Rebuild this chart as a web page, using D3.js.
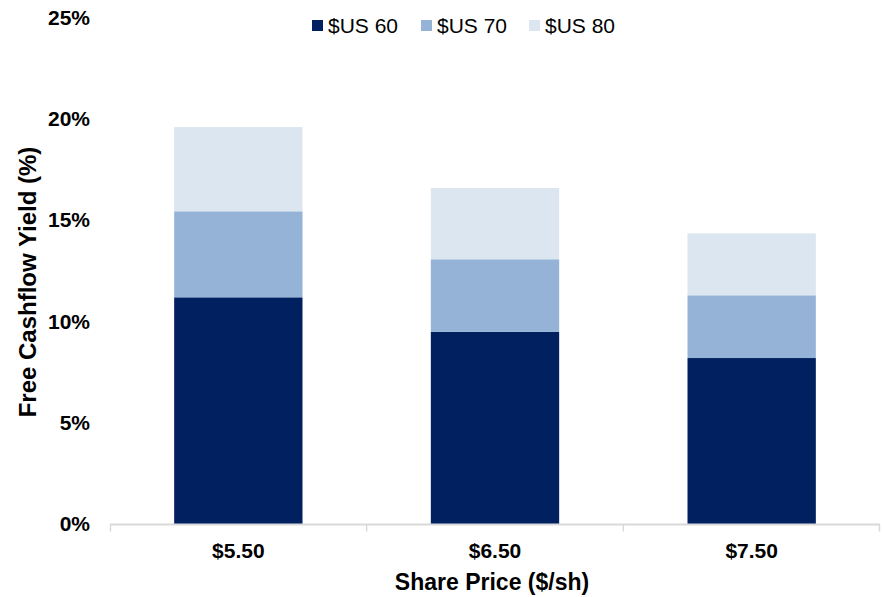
<!DOCTYPE html>
<html>
<head>
<meta charset="utf-8">
<script src="https://cdn.jsdelivr.net/npm/d3@7"></script>
<style>
    body { margin: 0; background: #fff; }
    text { font-family: "Liberation Sans", Arial, sans-serif; fill: #000; }
</style>
</head>
<body>
<div id="charts"></div>
<script>
// Chart data (percent).
let categories = ["$5.50", "$6.50", "$7.50"];
let series_names = ["$US 60", "$US 70", "$US 80"];
let us60 = [11.2, 9.5, 8.2];
let us70 = [4.25, 3.58, 3.1];
let us80 = [4.16, 3.52, 3.06];
let y_ticks = [0, 5, 10, 15, 20, 25];
let colors = ["#002060", "#95b3d7", "#dce6f1"];

let svg_width = 883, svg_height = 597;
let margin = { top: 18, right: 3, bottom: 73, left: 110 },
    width = svg_width - margin.left - margin.right,
    height = svg_height - margin.top - margin.bottom;

let svg = d3.select("#charts")
    .append("svg")
        .attr("width", svg_width)
        .attr("height", svg_height)
    .append("g")
        .attr("transform", "translate(" + margin.left + "," + margin.top + ")");

// Scales.
let x_scale = d3.scaleBand()
    .domain(categories)
    .range([0, width])
    .paddingInner(0.5)
    .paddingOuter(0.25);
let y_scale = d3.scaleLinear()
    .domain([0, 25])
    .range([height, 0]);

// Stack the series.
let table = categories.map((c, i) => ({ cat: c, s0: us60[i], s1: us70[i], s2: us80[i] }));
let stacked = d3.stack().keys(["s0", "s1", "s2"])(table);

svg.selectAll("g.layer")
    .data(stacked)
    .enter()
    .append("g")
        .attr("class", "layer")
        .attr("fill", (d, i) => colors[i])
    .selectAll("rect")
    .data(d => d)
    .enter()
    .append("rect")
        .attr("x", d => x_scale(d.data.cat))
        .attr("y", d => y_scale(d[1]))
        .attr("width", x_scale.bandwidth())
        .attr("height", d => y_scale(d[0]) - y_scale(d[1]));

// X axis: gray baseline with ticks between categories.
let x_axis = svg.append("g")
    .attr("class", "x_axis")
    .attr("transform", "translate(0," + (height + 0.5) + ")");
x_axis.append("line")
    .attr("x1", 0).attr("x2", width)
    .attr("stroke", "#d9d9d9").attr("stroke-width", 2);
let step = x_scale.step();
x_axis.selectAll("line.tick")
    .data(d3.range(0, categories.length + 1))
    .enter()
    .append("line")
        .attr("class", "tick")
        .attr("x1", i => Math.min(Math.max(i * step, 0.5), width - 0.5))
        .attr("x2", i => Math.min(Math.max(i * step, 0.5), width - 0.5))
        .attr("y1", 0).attr("y2", 7)
        .attr("stroke", "#d9d9d9").attr("stroke-width", 1.5);
x_axis.selectAll("text")
    .data(categories)
    .enter()
    .append("text")
        .attr("x", d => x_scale(d) + x_scale.bandwidth() / 2)
        .attr("y", 33)
        .style("text-anchor", "middle")
        .style("font-size", "21px")
        .style("font-weight", "bold")
        .text(d => d);

// Y axis labels (no line).
svg.append("g")
    .attr("class", "y_axis")
    .selectAll("text")
    .data(y_ticks)
    .enter()
    .append("text")
        .attr("x", -20)
        .attr("y", d => y_scale(d) + 7)
        .style("text-anchor", "end")
        .style("font-size", "21px")
        .style("font-weight", "bold")
        .text(d => d + "%");

// Axis titles.
svg.append("text")
    .attr("transform", "translate(" + (width / 2 - 3) + "," + (height + 66) + ")")
    .style("text-anchor", "middle")
    .style("font-size", "23px")
    .style("font-weight", "bold")
    .text("Share Price ($/sh)");
svg.append("text")
    .attr("transform", "translate(" + (36 - margin.left) + "," + (264) + ") rotate(-90)")
    .style("text-anchor", "middle")
    .style("font-size", "24px")
    .style("font-weight", "bold")
    .text("Free Cashflow Yield (%)");

// Legend.
let legend_x = [312, 421, 529];
let legend = svg.append("g")
    .attr("transform", "translate(" + (-margin.left) + "," + (-margin.top) + ")");
let items = legend.selectAll("g")
    .data(series_names)
    .enter()
    .append("g")
        .attr("transform", (d, i) => "translate(" + legend_x[i] + ",0)");
items.append("rect")
    .attr("x", 0).attr("y", 20)
    .attr("width", 11).attr("height", 11)
    .attr("fill", (d, i) => colors[i]);
items.append("text")
    .attr("x", 16).attr("y", 33)
    .style("font-size", "21px")
    .text(d => d);
</script>
</body>
</html>
